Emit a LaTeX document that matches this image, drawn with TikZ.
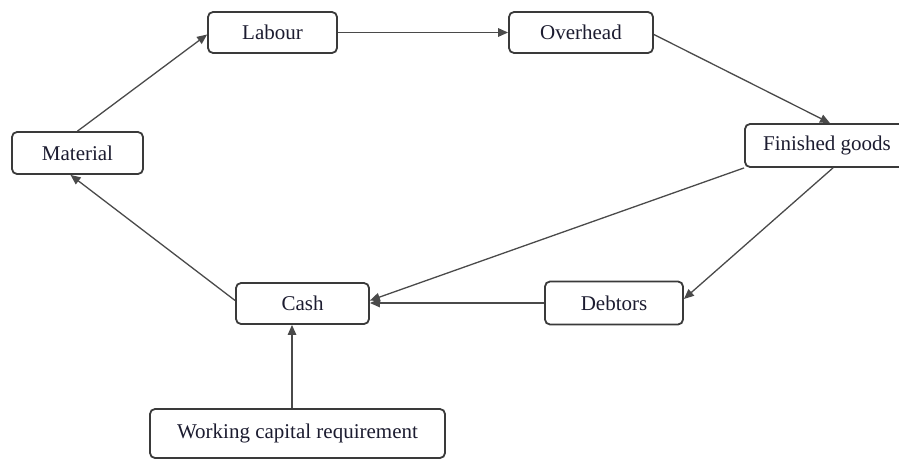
\documentclass[tikz,border=0pt]{standalone}
\usepackage{fontspec}
\setmainfont{Liberation Serif}
\usetikzlibrary{arrows.meta}
\definecolor{boxline}{HTML}{3A3A3A}
\definecolor{arrline}{HTML}{4A4A4A}
\definecolor{labeltext}{HTML}{1C1C30}
\begin{document}
\begin{tikzpicture}[x=1pt,y=-1pt,
  stage/.style={draw=boxline, line width=1.8pt, rounded corners=5pt, fill=white,
    inner sep=0pt, text=labeltext, font=\fontsize{21}{25}\selectfont},
  flow/.style={draw=arrline, line width=1.3pt,
    -{Triangle[length=10pt,width=8.5pt]}}]
\useasboundingbox (0,0) rectangle (899,460);
% working capital cycle stages
\node[stage, minimum width=129pt, minimum height=41pt] (lab) at (272.5,32.5) {Labour};
\node[stage, minimum width=144pt, minimum height=41pt] (ovh) at (581,32.5) {Overhead};
\node[stage, minimum width=131pt, minimum height=42pt] (mat) at (77.5,153) {Material};
\node[stage, minimum width=164pt, minimum height=43pt] (fg) at (827,145.5) {Finished goods};
\node[stage, minimum width=133pt, minimum height=41pt] (cash) at (302.5,303.5) {Cash};
\node[stage, minimum width=138pt, minimum height=43pt] (deb) at (614,303) {Debtors};
\node[stage, minimum width=295pt, minimum height=49pt] (wcr) at (297.5,433.5) {Working capital requirement};
% flows around the cycle
\draw[flow] (mat.north) -- ([yshift=-2pt]lab.west);
\draw[flow] (lab.east) -- (ovh.west);
\draw[flow] ([yshift=-2pt]ovh.east) -- ([xshift=3pt]fg.north);
\draw[flow] (fg.south west) -- ([yshift=3pt]cash.east);
\draw[flow] ([xshift=6pt]fg.south) -- ([yshift=4pt]deb.east);
\draw[flow] (deb.west) -- (deb.west -| cash.east);
\draw[flow] ([xshift=-5.5pt]wcr.north) -- ([xshift=-5.5pt]wcr.north |- cash.south);
\draw[flow] ([yshift=3pt]cash.west) -- ([xshift=-7pt]mat.south);
\end{tikzpicture}
\end{document}
